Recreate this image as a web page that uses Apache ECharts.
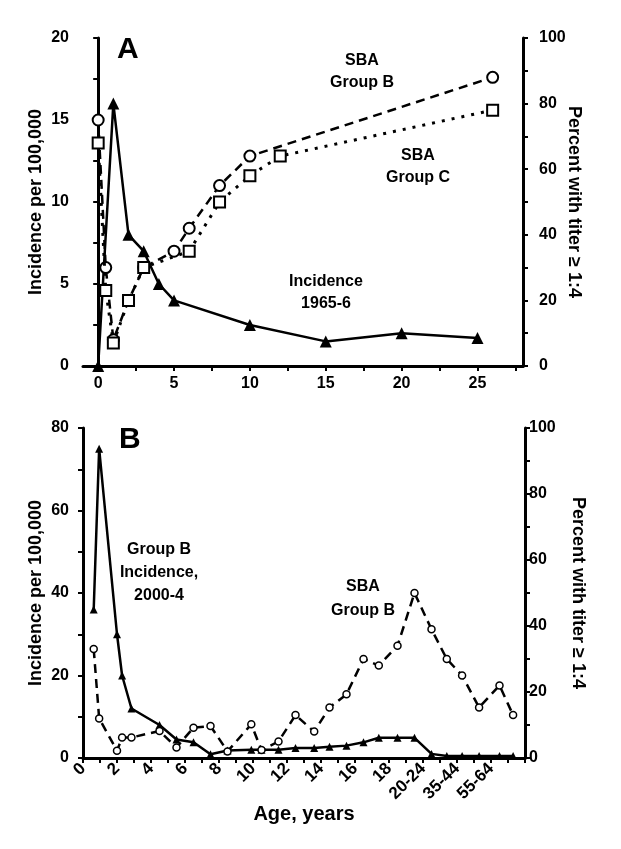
<!DOCTYPE html>
<html><head><meta charset="utf-8">
<script src="https://cdn.jsdelivr.net/npm/echarts@6/dist/echarts.min.js"></script>
<style>html,body{margin:0;padding:0;background:#fff}#c{width:621px;height:849px}</style>
</head><body><div id="c"></div>
<script>
// Panel A data
const ageA_inc = [0, 1, 2, 3, 4, 5, 10, 15, 20, 25];
const incA = [0, 16, 8, 7, 5, 4, 2.5, 1.5, 2, 1.7];
const ageA_sbaB = [0, 0.5, 1, 2, 3, 5, 6, 8, 10, 26];
const sbaB_A = [75, 30, 8, 20, 30, 35, 42, 55, 64, 88];
const ageA_sbaC = [0, 0.5, 1, 2, 3, 6, 8, 10, 12, 26];
const sbaC_A = [68, 23, 7, 20, 30, 35, 50, 58, 64, 78];
const ticksA_x = [0, 2.5, 5, 7.5, 10, 12.5, 15, 17.5, 20, 22.5, 25, 27.5];
const labelsA_x = [0, 5, 10, 15, 20, 25];
// Panel B data
const ageB = [0.63, 0.95, 2.0, 2.3, 2.85, 4.5, 5.5, 6.5, 7.5, 8.5, 9.9, 10.5, 11.5, 12.5, 13.6, 14.5, 15.5, 16.5, 17.4, 18.5, 19.5, 20.5, 21.4, 22.3, 23.3, 24.5, 25.3];
const incB = [36, 75, 30, 20, 12, 8, 4.5, 3.8, 0.9, 1.8, 2, 2, 2, 2.4, 2.4, 2.7, 3, 3.8, 4.9, 4.9, 4.9, 1, 0.5, 0.5, 0.5, 0.5, 0.5];
const sbaB_B = [33, 12, 2.2, 6.2, 6.2, 8.2, 3.2, 9.2, 9.7, 2, 10.2, 2.4, 5, 13, 8, 15.3, 19.3, 30, 28, 34, 50, 39, 30, 25, 15.3, 22, 13];
const labelsB_x = {0:'0',2:'2',4:'4',6:'6',8:'8',10:'10',12:'12',14:'14',16:'16',18:'18',20:'20-24',22:'35-44',24:'55-64'};

const F = 'Liberation Sans, Arial, sans-serif';
const axLine = {show: true, lineStyle: {color: '#000', width: 3}};
const tick = {show: true, inside: false, length: 5, lineStyle: {color: '#000', width: 2}};
const lab = {color: '#000', fontFamily: F, fontWeight: 'bold', fontSize: 16};
const nameStyle = {color: '#000', fontFamily: F, fontWeight: 'bold', fontSize: 18};
const zip = (xs, ys) => xs.map((x, i) => [x, ys[i]]);

const chart = echarts.init(document.getElementById('c'), null, {renderer: 'canvas'});
chart.setOption({
  backgroundColor: '#fff',
  animation: false,
  grid: [
    {left: 83, right: 98, top: 38, height: 328},
    {left: 83, right: 96, top: 428, height: 330}
  ],
  xAxis: [
    {gridIndex: 0, type: 'value', min: -1, max: 28, splitLine: {show: false},
     axisLine: Object.assign({onZero: false}, axLine),
     axisTick: Object.assign({customValues: ticksA_x}, tick),
     axisLabel: Object.assign({customValues: labelsA_x}, lab, {margin: 10})},
    {gridIndex: 1, type: 'value', min: 0, max: 26, interval: 1, splitLine: {show: false},
     axisLine: Object.assign({onZero: false}, axLine), axisTick: tick,
     axisLabel: Object.assign({}, lab, {fontSize: 17, rotate: 45, margin: 8, showMinLabel: true, showMaxLabel: true,
       formatter: v => labelsB_x[v] !== undefined ? labelsB_x[v] : ''}),
     name: 'Age, years', nameLocation: 'middle', nameGap: 46, nameMoveOverlap: false,
     nameTextStyle: Object.assign({}, nameStyle, {fontSize: 20})}
  ],
  yAxis: [
    {gridIndex: 0, type: 'value', min: 0, max: 20, interval: 2.5, position: 'left', splitLine: {show: false},
     axisLine: axLine, axisTick: tick,
     axisLabel: Object.assign({formatter: v => v % 5 === 0 ? String(v) : ''}, lab, {margin: 14}),
     name: 'Incidence per 100,000', nameLocation: 'middle', nameGap: 38, nameMoveOverlap: false, nameTextStyle: nameStyle},
    {gridIndex: 0, type: 'value', min: 0, max: 100, interval: 10, position: 'right', splitLine: {show: false},
     axisLine: axLine, axisTick: tick,
     axisLabel: Object.assign({formatter: v => v % 20 === 0 ? String(v) : ''}, lab, {margin: 16}),
     name: 'Percent with titer \u2265 1:4', nameLocation: 'middle', nameGap: 42, nameMoveOverlap: false, nameRotate: -90, nameTextStyle: nameStyle},
    {gridIndex: 1, type: 'value', min: 0, max: 80, interval: 10, position: 'left', splitLine: {show: false},
     axisLine: axLine, axisTick: tick,
     axisLabel: Object.assign({formatter: v => v % 20 === 0 ? String(v) : ''}, lab, {margin: 14}),
     name: 'Incidence per 100,000', nameLocation: 'middle', nameGap: 38, nameMoveOverlap: false, nameTextStyle: nameStyle},
    {gridIndex: 1, type: 'value', min: 0, max: 100, interval: 10, position: 'right', splitLine: {show: false},
     axisLine: axLine, axisTick: tick,
     axisLabel: Object.assign({formatter: v => v % 20 === 0 ? String(v) : ''}, lab, {margin: 4}),
     name: 'Percent with titer \u2265 1:4', nameLocation: 'middle', nameGap: 44, nameMoveOverlap: false, nameRotate: -90, nameTextStyle: nameStyle}
  ],
  series: [
    {type: 'line', xAxisIndex: 0, yAxisIndex: 0, data: zip(ageA_inc, incA),
     lineStyle: {color: '#000', width: 2.5}, symbol: 'triangle', symbolSize: 12,
     itemStyle: {color: '#000'}, z: 3},
    {type: 'line', xAxisIndex: 0, yAxisIndex: 1, data: zip(ageA_sbaB, sbaB_A),
     lineStyle: {color: '#000', width: 2.5, type: [9, 6]}, symbol: 'circle', symbolSize: 11,
     itemStyle: {color: '#fff', borderColor: '#000', borderWidth: 2}, z: 4},
    {type: 'line', xAxisIndex: 0, yAxisIndex: 1, data: zip(ageA_sbaC, sbaC_A),
     lineStyle: {color: '#000', width: 3, type: [3, 7]}, symbol: 'rect', symbolSize: 11,
     itemStyle: {color: '#fff', borderColor: '#000', borderWidth: 2}, z: 5},
    {type: 'line', xAxisIndex: 1, yAxisIndex: 2, data: zip(ageB, incB),
     lineStyle: {color: '#000', width: 2.5}, symbol: 'triangle', symbolSize: 8,
     itemStyle: {color: '#000'}, z: 3},
    {type: 'line', xAxisIndex: 1, yAxisIndex: 3, data: zip(ageB, sbaB_B),
     lineStyle: {color: '#000', width: 2.5, type: [9, 6]}, symbol: 'circle', symbolSize: 7,
     itemStyle: {color: '#fff', borderColor: '#000', borderWidth: 1.5}, z: 4}
  ],
  graphic: [
    {type: 'text', left: 117, top: 35, style: {text: 'A', font: 'bold 30px ' + F, fill: '#000'}},
    {type: 'text', x: 362, y: 50, style: {text: 'SBA\nGroup B', font: 'bold 16px ' + F, fill: '#000', align: 'center', lineHeight: 22}},
    {type: 'text', x: 418, y: 145, style: {text: 'SBA\nGroup C', font: 'bold 16px ' + F, fill: '#000', align: 'center', lineHeight: 22}},
    {type: 'text', x: 326, y: 271, style: {text: 'Incidence\n1965-6', font: 'bold 16px ' + F, fill: '#000', align: 'center', lineHeight: 22}},
    {type: 'text', left: 119, top: 425, style: {text: 'B', font: 'bold 30px ' + F, fill: '#000'}},
    {type: 'text', x: 159, y: 538, style: {text: 'Group B\nIncidence,\n2000-4', font: 'bold 16px ' + F, fill: '#000', align: 'center', lineHeight: 23}},
    {type: 'text', x: 363, y: 575, style: {text: 'SBA\nGroup B', font: 'bold 16px ' + F, fill: '#000', align: 'center', lineHeight: 24}}
  ]
});
</script></body></html>
